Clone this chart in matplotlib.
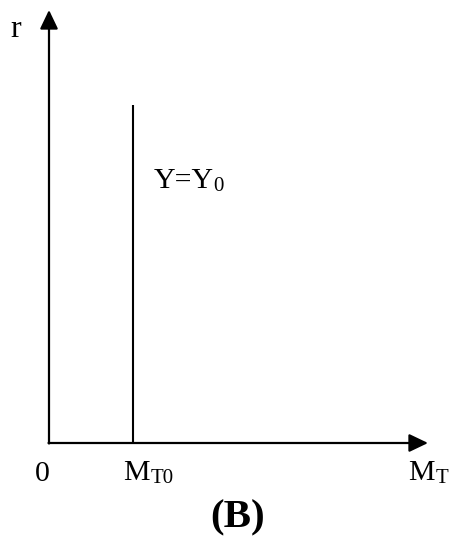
"""
Money market diagram: vertical money demand curve at a fixed income level.
"""
import matplotlib
matplotlib.use("Agg")
import matplotlib.pyplot as plt

plt.rcParams['font.family'] = 'Liberation Serif'

# axis extents (arbitrary units from the origin)
x_axis_end = 379
y_axis_end = 433

# money demand at Y = Y0
mt0 = 84
line_top = 338

# labels as (main text, subscript)
y_label = "r"
origin_label = "0"
mt0_label = ("M", "T0")
mt_label = ("M", "T")
curve_label = ("Y=Y", "0")
panel_label = "(B)"

fs = 21.5
fs_sub = 15

fig = plt.figure(figsize=(4.51, 5.40), dpi=100)
ax = fig.add_axes([0, 0, 1, 1])
ax.set_xlim(-49, 402)
ax.set_ylim(-97, 443)
ax.axis('off')


def sub_text(x, y, main, sub, gap=0.0):
    # subscript anchored to the bottom-right of the main text's box
    t = ax.text(x, y, main, fontsize=fs, ha='left', va='baseline')
    ax.annotate(sub, xy=(1, 0), xycoords=t, xytext=(gap, 2.5),
                textcoords='offset points', fontsize=fs_sub, ha='left', va='baseline')


arrow = dict(arrowstyle='-|>,head_length=1.15,head_width=0.55', mutation_scale=10,
             lw=1.6, color='black', shrinkA=0, shrinkB=0)
ax.annotate('', xy=(x_axis_end, 0), xytext=(-0.5, 0), arrowprops=arrow)
ax.annotate('', xy=(0, y_axis_end), xytext=(0, -0.5), arrowprops=arrow)

ax.plot([mt0, mt0], [0, line_top], color='black', lw=1.5, solid_capstyle='butt')

ax.text(-33.5, 406, y_label, fontsize=23, ha='center', va='baseline')
ax.text(-7, -38, origin_label, fontsize=fs, ha='center', va='baseline')
sub_text(74, -37, *mt0_label, gap=1.0)
sub_text(359, -37, *mt_label, gap=1.0)
sub_text(105, 255, *curve_label, gap=-0.5)

ax.text(189, -84, panel_label, fontsize=29.5, fontweight='bold', ha='center', va='baseline')

fig.savefig("out.png", dpi=100)
